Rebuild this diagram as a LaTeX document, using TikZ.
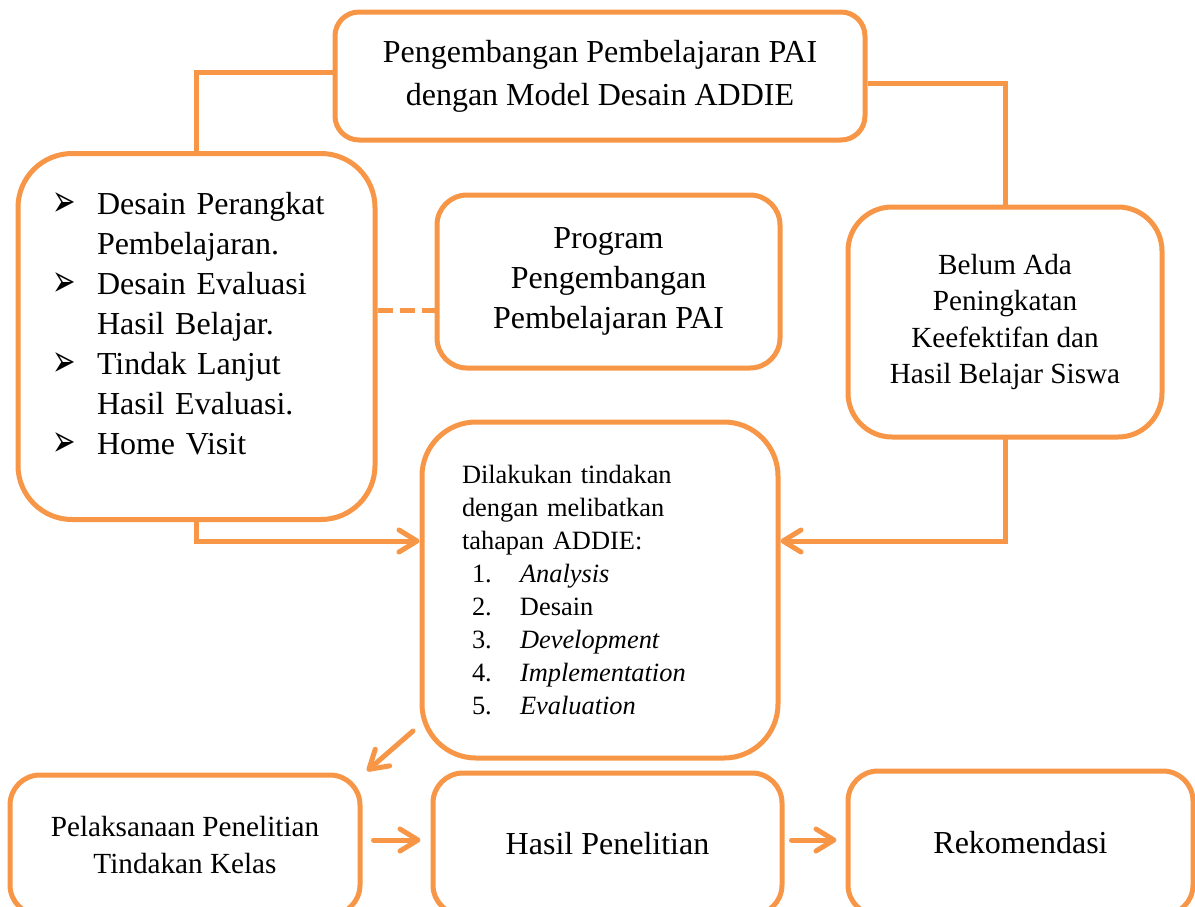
\documentclass[tikz,border=0pt]{standalone}
\usepackage{fontspec}
\setmainfont{Liberation Serif}
\newfontfamily\panahfont{DejaVu Sans}
\usetikzlibrary{arrows.meta}

\definecolor{oranye}{RGB}{247,150,70}

\newcommand{\butir}[1]{\makebox[22pt][l]{\panahfont\fontsize{14}{14}\selectfont\raisebox{-1pt}{\scalebox{1}[1.6]{➢}}}#1}
\newcommand{\tahap}[2]{\hspace*{5pt}\makebox[24pt][l]{#1}#2}

\tikzset{
  kotak/.style={draw=oranye, line width=2.5pt, rounded corners=#1, fill=white,
    inner sep=0pt, align=center},
  kotak/.default=15pt,
  besar/.style={font=\fontsize{16}{20}\selectfont},
  sedang/.style={font=\fontsize{14.6}{18.3}\selectfont},
  kecil/.style={font=\fontsize{13.2}{16.5}\selectfont},
  garis/.style={draw=oranye, line width=2.5pt},
  panah/.style={garis, line cap=round,
    -{Straight Barb[length=9pt,width=11pt,round]}}
}

\begin{document}
\begin{tikzpicture}[x=0.5pt,y=-0.5pt]
      \useasboundingbox (0,0) rectangle (1195,906);
      \clip (0,0) rectangle (1195,906);

      \node [kotak=12pt, besar, minimum width=265pt, minimum height=64pt] (judul) at (600,76)
        {Pengembangan Pembelajaran PAI\\[1.5pt]dengan Model Desain ADDIE};
      \node [kotak=27pt, besar, minimum height=183pt, text width=143.5pt, inner xsep=17.5pt,
        align=left] (kiri) at (196.5,336.5)
        {\butir{Desain Perangkat}\\ \hspace*{22pt}Pembelajaran.\\
         \butir{Desain Evaluasi}\\ \hspace*{22pt}Hasil Belajar.\\
         \butir{Tindak Lanjut}\\ \hspace*{22pt}Hasil Evaluasi.\\
         \butir{Home Visit}\\[-7pt]\mbox{}};
      \node [kotak, besar, minimum width=171.5pt, minimum height=86.5pt] (program) at (608.5,281.5)
        {Program\\Pengembangan\\Pembelajaran PAI};
      \node [kotak=22pt, sedang, minimum width=157pt, minimum height=115pt] (kanan) at (1005,322)
        {Belum Ada\\Peningkatan\\Keefektifan dan\\Hasil Belajar Siswa};
      \node [kotak=27pt, kecil, minimum height=168pt, text width=138pt, inner xsep=20pt,
        align=left] (tengah) at (600,590)
        {Dilakukan tindakan\\ dengan melibatkan\\ tahapan ADDIE:\\
         \tahap{1.}{\textit{Analysis}}\\ \tahap{2.}{Desain}\\
         \tahap{3.}{\textit{Development}}\\ \tahap{4.}{\textit{Implementation}}\\
         \tahap{5.}{\textit{Evaluation}}};
      \node [kotak, sedang, minimum width=175pt, minimum height=70pt] (laksana) at (185,845)
        {Pelaksanaan Penelitian\\Tindakan Kelas};
      \node [kotak, besar, minimum width=174.5pt, minimum height=71pt] (hasil) at (607.5,844)
        {Hasil Penelitian};
      \node [kotak, besar, minimum width=172.5pt, minimum height=72pt] (rekom) at (1020.5,843)
        {Rekomendasi};

      \coordinate (putus) at (0,310);
      \coordinate (baris) at (0,840);
      \coordinate (pangkal) at (413,731);
      \coordinate (ujung) at (367,771);

      % garis dari judul
      \draw [garis] ([yshift=2pt]judul.west) -| (kiri.north);
      \draw [garis] ([yshift=-3.5pt]judul.east) -| (kanan.north);
      \draw [garis, dash pattern=on 7.5pt off 3.5pt] (kiri.east |- putus) -- (program.west |- putus);

      % menuju tahapan ADDIE
      \draw [panah] (kiri.south) |- ([yshift=24.5pt]tengah.west);
      \draw [panah] (kanan.south) |- ([yshift=24.5pt]tengah.east);
      \draw [panah] (pangkal) -- (ujung);

      \draw [panah, shorten <=5.5pt, shorten >=5pt] (laksana.east |- baris) -- (hasil.west |- baris);
      \draw [panah, shorten <=3.5pt, shorten >=4.5pt] (hasil.east |- baris) -- (rekom.west |- baris);
    \end{tikzpicture}
\end{document}
